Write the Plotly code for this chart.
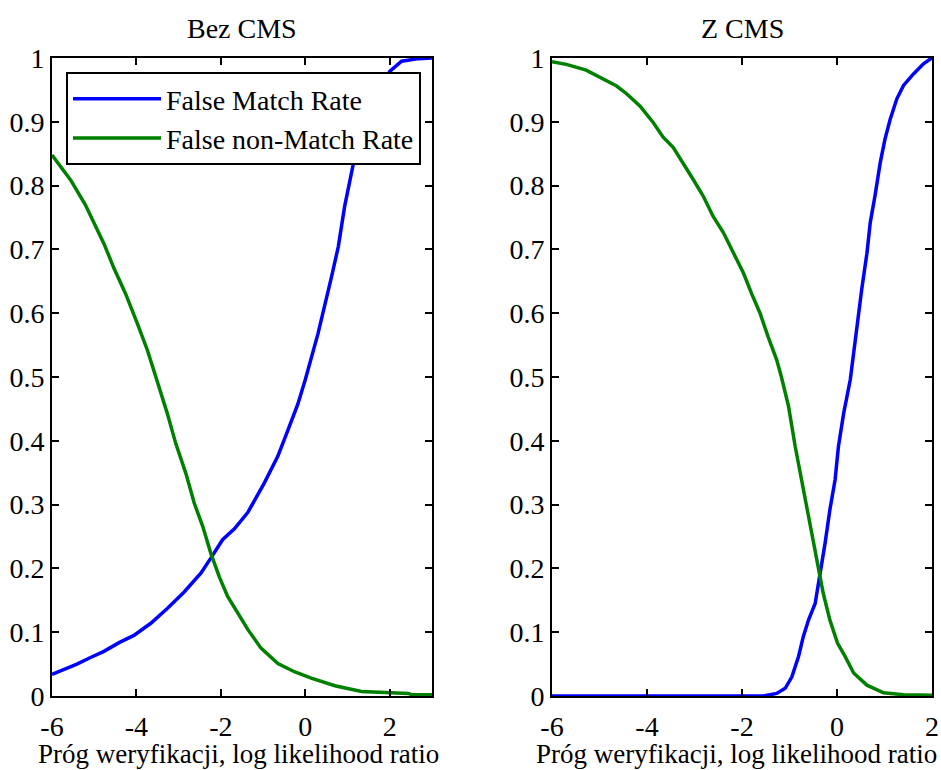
import plotly.graph_objects as go

# ---- data ----
left_fmr_x = [-6.0, -5.7, -5.41, -5.1, -4.77, -4.4, -4.06, -3.66, -3.27, -2.87, -2.47, -2.2, -1.96,
              -1.68, -1.36, -0.97, -0.65, -0.41, -0.18, 0.0, 0.3, 0.62, 0.78, 0.93, 1.05, 1.17,
              1.4, 1.7, 2.0, 2.28, 2.68, 3.0]
left_fmr_y = [0.034, 0.042, 0.050, 0.060, 0.070, 0.084, 0.095, 0.114, 0.137, 0.163, 0.193, 0.220, 0.245,
              0.262, 0.288, 0.334, 0.376, 0.417, 0.457, 0.496, 0.568, 0.657, 0.704, 0.767, 0.809, 0.845,
              0.900, 0.945, 0.979, 0.995, 0.999, 1.0]

left_fnmr_x = [-6.0, -5.56, -5.21, -5.01, -4.77, -4.53, -4.26, -3.98, -3.74, -3.54, -3.27, -3.07, -2.83,
               -2.63, -2.43, -2.24, -2.04, -1.84, -1.6, -1.36, -1.05, -0.65, -0.26, 0.14, 0.7, 1.33,
               2.44, 2.52, 3.0]
left_fnmr_y = [0.848, 0.809, 0.770, 0.743, 0.709, 0.670, 0.631, 0.584, 0.542, 0.500, 0.443, 0.396, 0.349,
               0.302, 0.266, 0.224, 0.187, 0.156, 0.130, 0.104, 0.075, 0.051, 0.038, 0.028, 0.016, 0.007,
               0.004, 0.002, 0.002]

right_fmr_x = [-6.0, -1.55, -1.27, -1.09, -0.95, -0.81, -0.71, -0.6, -0.46, -0.36, -0.25, -0.15, -0.04,
               0.03, 0.14, 0.28, 0.42, 0.52, 0.63, 0.7, 0.8, 0.91, 1.01, 1.12, 1.26, 1.4, 1.61, 1.82, 2.0]
right_fmr_y = [0.0, 0.0, 0.004, 0.012, 0.030, 0.062, 0.093, 0.119, 0.145, 0.187, 0.240, 0.292, 0.339,
               0.391, 0.443, 0.496, 0.584, 0.637, 0.694, 0.742, 0.784, 0.836, 0.873, 0.904, 0.936, 0.957,
               0.975, 0.991, 1.0]

right_fnmr_x = [-6.0, -5.7, -5.28, -4.92, -4.64, -4.43, -4.15, -3.87, -3.66, -3.45, -3.24, -3.03, -2.82,
                -2.61, -2.39, -2.18, -1.97, -1.8, -1.62, -1.45, -1.27, -1.17, -1.02, -0.88, -0.71, -0.57,
                -0.43, -0.29, -0.15, 0.01, 0.17, 0.35, 0.63, 0.98, 1.4, 2.0]
right_fnmr_y = [0.994, 0.990, 0.981, 0.967, 0.956, 0.944, 0.925, 0.899, 0.876, 0.860, 0.836, 0.810, 0.784,
                0.752, 0.726, 0.694, 0.663, 0.631, 0.600, 0.563, 0.527, 0.500, 0.454, 0.391, 0.323, 0.271,
                0.213, 0.161, 0.119, 0.083, 0.062, 0.036, 0.017, 0.005, 0.002, 0.001]

series_names = ["False Match Rate", "False non-Match Rate"]
panel_titles = ["Bez CMS", "Z CMS"]
x_title = "Próg weryfikacji, log likelihood ratio"

left_xticks = [-6, -4, -2, 0, 2]
right_xticks = [-6, -4, -2, 0, 2]
y_ticks = [0, 0.1, 0.2, 0.3, 0.4, 0.5, 0.6, 0.7, 0.8, 0.9, 1.0]
y_ticklabels = ["0", "0.1", "0.2", "0.3", "0.4", "0.5", "0.6", "0.7", "0.8", "0.9", "1"]

BLUE = "#0000FF"
GREEN = "#008000"
FONT = "Liberation Serif"
FS = 28
FS_XT = 27
LW = 3.5

fig = go.Figure()
fig.add_trace(go.Scatter(x=left_fmr_x, y=left_fmr_y, mode="lines", name=series_names[0],
                         line=dict(color=BLUE, width=LW), xaxis="x", yaxis="y"))
fig.add_trace(go.Scatter(x=left_fnmr_x, y=left_fnmr_y, mode="lines", name=series_names[1],
                         line=dict(color=GREEN, width=LW), xaxis="x", yaxis="y"))
fig.add_trace(go.Scatter(x=right_fmr_x, y=right_fmr_y, mode="lines", name=series_names[0],
                         line=dict(color=BLUE, width=LW), xaxis="x2", yaxis="y2", showlegend=False))
fig.add_trace(go.Scatter(x=right_fnmr_x, y=right_fnmr_y, mode="lines", name=series_names[1],
                         line=dict(color=GREEN, width=LW), xaxis="x2", yaxis="y2", showlegend=False))

W, H = 941, 770
lx0, lx1 = 52, 432
rx0, rx1 = 552, 932
ytop, ybot = 58, 696

axis_common = dict(showline=True, linecolor="black", linewidth=2, mirror="ticks",
                   ticks="inside", ticklen=7, tickwidth=2, tickcolor="black",
                   showgrid=False, zeroline=False, automargin=False,
                   tickfont=dict(family=FONT, size=FS, color="black"))

fig.update_layout(
    width=W, height=H,
    margin=dict(l=0, r=0, t=0, b=0),
    paper_bgcolor="white", plot_bgcolor="white",
    font=dict(family=FONT, size=FS, color="black"),
    xaxis=dict(domain=[lx0 / W, lx1 / W], range=[-6, 3], anchor="y", ticklabelstandoff=4,
               tickvals=left_xticks, ticktext=[str(v) for v in left_xticks], **axis_common),
    yaxis=dict(domain=[1 - ybot / H, 1 - ytop / H], range=[0, 1], anchor="x",
               tickvals=y_ticks, ticktext=y_ticklabels, **axis_common),
    xaxis2=dict(domain=[rx0 / W, rx1 / W], range=[-6, 2], anchor="y2", ticklabelstandoff=4,
                tickvals=right_xticks, ticktext=[str(v) for v in right_xticks], **axis_common),
    yaxis2=dict(domain=[1 - ybot / H, 1 - ytop / H], range=[0, 1], anchor="x2",
                tickvals=y_ticks, ticktext=y_ticklabels, **axis_common),
    showlegend=True,
    legend=dict(x=66 / W, y=1 - 72 / H, xanchor="left", yanchor="top",
                bgcolor="white", bordercolor="black", borderwidth=2,
                font=dict(family=FONT, size=FS, color="black"),
                itemwidth=88, tracegroupgap=0),
)

annotations = [
    dict(text=panel_titles[0], x=(lx0 + lx1) / 2 / W, y=1 - 29 / H, size=FS),
    dict(text=panel_titles[1], x=(rx0 + rx1) / 2 / W, y=1 - 29 / H, size=FS),
    dict(text=x_title, x=(lx0 + lx1 - 8) / 2 / W, y=1 - 754 / H, size=FS_XT),
    dict(text=x_title, x=(rx0 + rx1 - 11) / 2 / W, y=1 - 754 / H, size=FS_XT),
]
for a in annotations:
    size = a.pop("size")
    fig.add_annotation(xref="paper", yref="paper", xanchor="center", yanchor="middle",
                       showarrow=False, font=dict(family=FONT, size=size, color="black"), **a)

fig.write_html("out.html", config={"displayModeBar": False},
               post_script="document.body.style.margin='0px';document.body.style.overflow='hidden';")
